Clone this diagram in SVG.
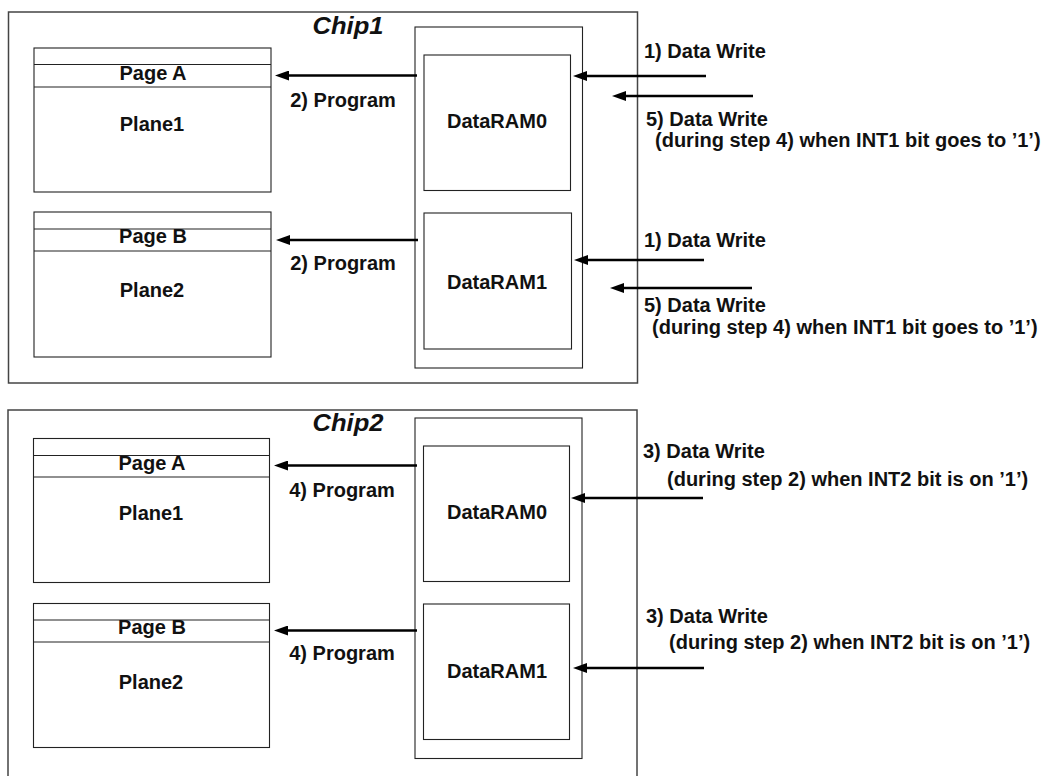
<svg xmlns="http://www.w3.org/2000/svg" width="1057" height="776" viewBox="0 0 1057 776">
<style>
  .chip { fill: none; stroke: #444; stroke-width: 1.5; }
  .box { fill: none; stroke: #222; stroke-width: 1.1; }
  .arrow { fill: none; stroke: #000; stroke-width: 2.5; marker-end: url(#head); }
  text { font-family: "Liberation Sans", Arial, sans-serif; font-weight: bold; font-size: 20px; fill: #111; }
  .title { font-style: italic; font-size: 24px; text-anchor: middle; }
  .mid { text-anchor: middle; }
</style>
<defs>
  <marker id="head" markerUnits="userSpaceOnUse" markerWidth="14" markerHeight="10" viewBox="0 0 14 10" refX="6" refY="5" orient="auto">
    <path d="M0,0 L14,5 L0,10 z" fill="#000"/>
  </marker>
</defs>
<rect width="1057" height="776" fill="#fff"/>

<!-- Chip 1 -->
<g id="chip1">
  <rect class="chip" x="8.5" y="12" width="629" height="371"/>
  <text class="title" x="348" y="34" textLength="71" lengthAdjust="spacingAndGlyphs">Chip1</text>
</g>
<g id="chip1-plane1">
  <rect class="box" x="34" y="48" width="237" height="144"/>
  <line class="box" x1="34" y1="64.5" x2="271" y2="64.5"/>
  <line class="box" x1="34" y1="87" x2="271" y2="87"/>
  <text class="mid" x="153" y="80">Page A</text>
  <text class="mid" x="152" y="131">Plane1</text>
</g>
<g id="chip1-plane2">
  <rect class="box" x="34" y="212" width="237" height="145"/>
  <line class="box" x1="34" y1="229" x2="271" y2="229"/>
  <line class="box" x1="34" y1="251" x2="271" y2="251"/>
  <text class="mid" x="153" y="243">Page B</text>
  <text class="mid" x="152" y="297">Plane2</text>
</g>
<g id="chip1-ram">
  <rect class="box" x="415" y="27" width="167.5" height="341"/>
</g>
<g id="chip1-dataram0">
  <rect class="box" x="424" y="55" width="146.5" height="135.5"/>
  <text class="mid" x="497" y="128">DataRAM0</text>
</g>
<g id="chip1-dataram1">
  <rect class="box" x="424" y="213" width="147.5" height="136"/>
  <text class="mid" x="497" y="289">DataRAM1</text>
</g>

<!-- Chip 2 -->
<g id="chip2">
  <rect class="chip" x="8" y="410" width="629" height="372"/>
  <text class="title" x="348" y="431" textLength="71" lengthAdjust="spacingAndGlyphs">Chip2</text>
</g>
<g id="chip2-plane1">
  <rect class="box" x="33.5" y="438.5" width="236" height="144"/>
  <line class="box" x1="33.5" y1="455.5" x2="269.5" y2="455.5"/>
  <line class="box" x1="33.5" y1="477" x2="269.5" y2="477"/>
  <text class="mid" x="152" y="470">Page A</text>
  <text class="mid" x="151" y="520">Plane1</text>
</g>
<g id="chip2-plane2">
  <rect class="box" x="33.5" y="603.5" width="236" height="144"/>
  <line class="box" x1="33.5" y1="620" x2="269.5" y2="620"/>
  <line class="box" x1="33.5" y1="642" x2="269.5" y2="642"/>
  <text class="mid" x="152" y="634">Page B</text>
  <text class="mid" x="151" y="689">Plane2</text>
</g>
<g id="chip2-ram">
  <rect class="box" x="415" y="418" width="167" height="340.5"/>
</g>
<g id="chip2-dataram0">
  <rect class="box" x="423.5" y="446" width="146" height="135.5"/>
  <text class="mid" x="497" y="519">DataRAM0</text>
</g>
<g id="chip2-dataram1">
  <rect class="box" x="423.5" y="604" width="146" height="135.5"/>
  <text class="mid" x="497" y="678">DataRAM1</text>
</g>

<!-- Connectors -->
<g id="connectors">
  <line class="arrow" x1="417" y1="75.5" x2="283" y2="75.5"/>
  <line class="arrow" x1="418" y1="240" x2="284" y2="240"/>
  <line class="arrow" x1="706" y1="76" x2="581" y2="76"/>
  <line class="arrow" x1="753" y1="96" x2="620" y2="96"/>
  <line class="arrow" x1="704" y1="260" x2="582" y2="260"/>
  <line class="arrow" x1="752" y1="288" x2="618" y2="288"/>
  <line class="arrow" x1="417" y1="465.5" x2="282" y2="465.5"/>
  <line class="arrow" x1="417" y1="630.5" x2="282" y2="630.5"/>
  <line class="arrow" x1="703" y1="498" x2="579" y2="498"/>
  <line class="arrow" x1="704" y1="668" x2="581" y2="668"/>
  <text class="mid" x="343" y="107">2) Program</text>
  <text class="mid" x="343" y="270">2) Program</text>
  <text class="mid" x="342" y="497">4) Program</text>
  <text class="mid" x="342" y="660">4) Program</text>
  <text x="644" y="58">1) Data Write</text>
  <text x="646" y="125.5">5) Data Write</text>
  <text x="655" y="146.5">(during step 4) when INT1 bit goes to ’1’)</text>
  <text x="644" y="247">1) Data Write</text>
  <text x="644" y="312">5) Data Write</text>
  <text x="652" y="333.5">(during step 4) when INT1 bit goes to ’1’)</text>
  <text x="643" y="458">3) Data Write</text>
  <text x="667" y="486">(during step 2) when INT2 bit is on ’1’)</text>
  <text x="646" y="623">3) Data Write</text>
  <text x="669" y="649">(during step 2) when INT2 bit is on ’1’)</text>
</g>
</svg>
